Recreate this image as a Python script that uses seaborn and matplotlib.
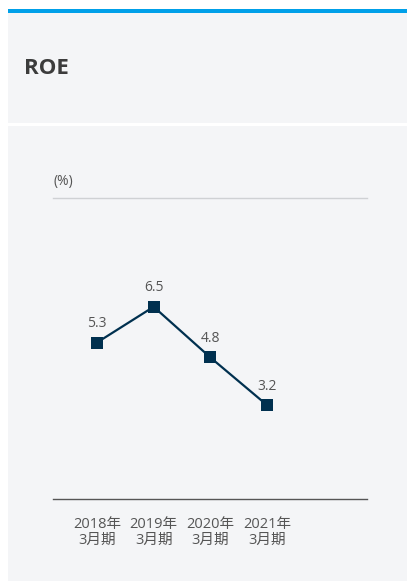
import matplotlib
matplotlib.use("Agg")
import matplotlib.pyplot as plt
import matplotlib.patches as mpatches
import seaborn as sns
import pandas as pd

categories = ["2018年\n3月期", "2019年\n3月期", "2020年\n3月期", "2021年\n3月期"]
roe_values = [5.3, 6.5, 4.8, 3.2]
title = "ROE"
unit_label = "(%)"

sns.set_style("white")
plt.rcParams['font.family'] = ['Open Sans', 'Noto Sans CJK JP', 'DejaVu Sans']

W, H = 407, 581
fig = plt.figure(figsize=(W / 100, H / 100), dpi=100)
fig.patch.set_facecolor("white")

def px_rect(x0, y0, x1, y1, color):
    fig.patches.append(mpatches.Rectangle((x0 / W, 1 - y1 / H), (x1 - x0) / W, (y1 - y0) / H,
                                          transform=fig.transFigure, facecolor=color,
                                          edgecolor="none", zorder=-10))

panel = "#f4f5f7"
px_rect(8, 9, W, 13.5, "#00a0e9")
px_rect(8, 13.5, W, 122.5, panel)
px_rect(8, 125.5, W, H, panel)

fig.text(23.5 / W, 1 - 69 / H, title, fontsize=16, fontweight="bold", color="#3c3c3c",
         va="center", ha="left")

ax = fig.add_axes([53 / W, 82 / H, 314 / W, 301 / H])
ax.set_zorder(5)
ax.patch.set_alpha(0)

df = pd.DataFrame({"idx": range(len(categories)), "roe": roe_values})
sns.lineplot(data=df, x="idx", y="roe", ax=ax, color="#00304f", linewidth=1.6,
             marker="s", markersize=8.4, markeredgewidth=0, markerfacecolor="#00304f")

for i, v in enumerate(roe_values):
    ax.annotate(f"{v}", (i, v), xytext=(0, 13.7), textcoords="offset points",
                ha="center", va="center", fontsize=10, color="#555555")

ax.set_ylim(0.05, 10.15)
ax.set_xlim(-0.776, 4.764)
ax.set_xticks(range(len(categories)))
ax.set_xticklabels(categories, fontsize=10.5, color="#555555", linespacing=1.12)
ax.set_yticks([])
ax.tick_params(axis="x", length=0, pad=13)
ax.set_xlabel("")
ax.set_ylabel("")
for s in ["left", "right"]:
    ax.spines[s].set_visible(False)
ax.spines["top"].set_color("#cfd1d4")
ax.spines["top"].set_linewidth(1.0)
ax.spines["bottom"].set_color("#555555")
ax.spines["bottom"].set_linewidth(1.0)

fig.text(53 / W, 1 - 182 / H, unit_label, fontsize=10, color="#555555", ha="left", va="center")

fig.savefig("out.png", dpi=100)
